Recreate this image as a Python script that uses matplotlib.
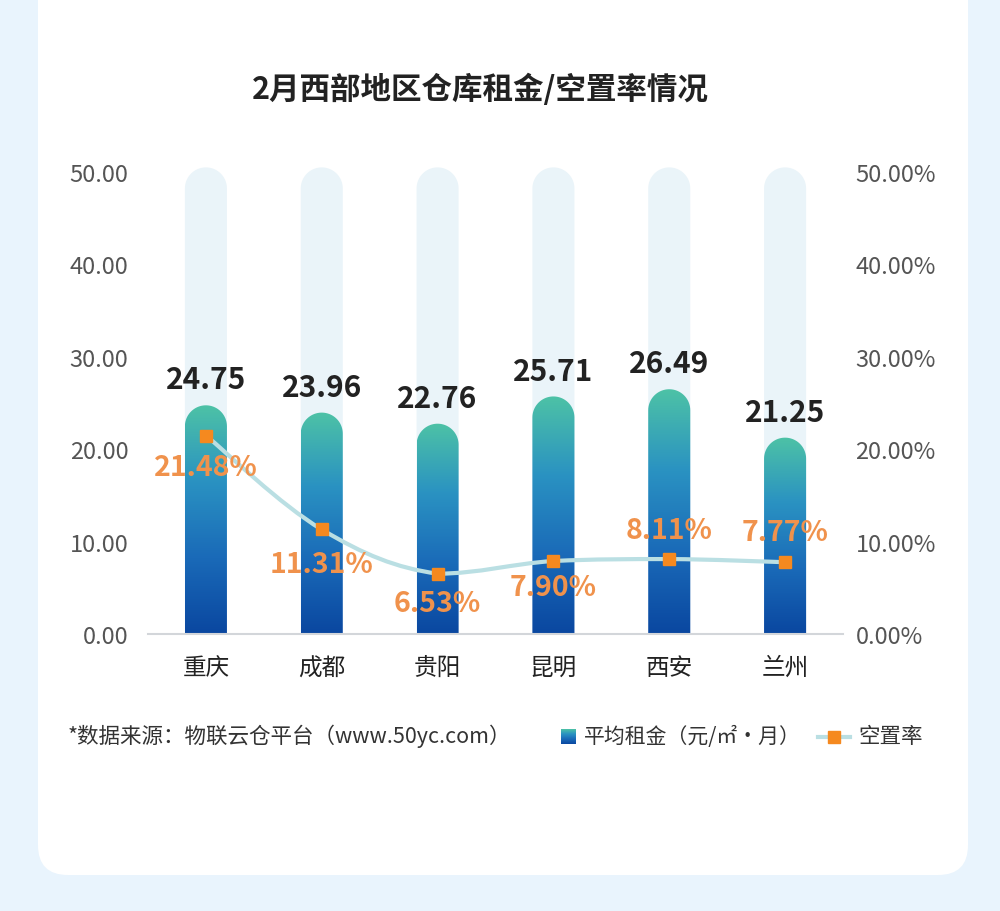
import numpy as np
import matplotlib
matplotlib.use("Agg")
import matplotlib.pyplot as plt
from matplotlib.patches import FancyBboxPatch, PathPatch
from matplotlib.path import Path
from matplotlib.colors import LinearSegmentedColormap
from matplotlib.lines import Line2D
from matplotlib.ticker import FuncFormatter

plt.rcParams['font.family'] = ['Noto Sans CJK SC', 'DejaVu Sans']

# data
cities = ['重庆', '成都', '贵阳', '昆明', '西安', '兰州']
rent = [24.75, 23.96, 22.76, 25.71, 26.49, 21.25]
vacancy = [21.48, 11.31, 6.53, 7.90, 8.11, 7.77]
rent_ticks = [0, 10, 20, 30, 40, 50]

title = '2月西部地区仓库租金/空置率情况'
source = '*数据来源：物联云仓平台（www.50yc.com）'
rent_name = '平均租金（元/㎡·月）'
vac_name = '空置率'

W, H = 1000, 912
fig = plt.figure(figsize=(W / 100, H / 100), dpi=100, facecolor='#e9f4fd')

# white card
card = FancyBboxPatch((0.38, 0.36), 9.30, 9.5, boxstyle='round,pad=0,rounding_size=0.3',
                      transform=fig.dpi_scale_trans, facecolor='white', edgecolor='none', zorder=-10)
fig.patches.append(card)

def fx(px):
    return px / W

def fy(py):
    return 1 - py / H

ax = fig.add_axes([fx(148), fy(635), fx(843) - fx(148), (635 - 173) / H])
ax.set_facecolor('none')
ax.set_xlim(-0.5, len(cities) - 0.5)
ax.set_ylim(0, 50)

cmap = LinearSegmentedColormap.from_list('bar', ['#0a47a0', '#1a6ab8', '#2a92c2', '#4dc2a6'])
grad = np.linspace(0, 1, 256).reshape(-1, 1)

bar_w = 0.363
px_x = (843 - 148) / len(cities)
px_y = (635 - 173) / 50
r_x = bar_w / 2
r_y = (bar_w / 2) * px_x / px_y

def rounded_bar(xc, top):
    t = np.linspace(0, np.pi, 40)
    xs = [xc - r_x, xc - r_x] + list(xc - r_x * np.cos(t)) + [xc + r_x, xc - r_x]
    ys = [0, top - r_y] + list(top - r_y + r_y * np.sin(t)) + [0, 0]
    verts = list(zip(xs, ys))
    codes = [Path.MOVETO] + [Path.LINETO] * (len(verts) - 2) + [Path.CLOSEPOLY]
    return Path(verts, codes)

for i, v in enumerate(rent):
    bg = PathPatch(rounded_bar(i, 50.5), facecolor='#eaf4f9', edgecolor='none', zorder=1, clip_on=False)
    ax.add_patch(bg)
    p = PathPatch(rounded_bar(i, v), facecolor='none', edgecolor='none', zorder=2)
    ax.add_patch(p)
    im = ax.imshow(grad, cmap=cmap, origin='lower', aspect='auto',
                   extent=[i - r_x, i + r_x, 0, v], zorder=2)
    im.set_clip_path(p)
    ax.text(i, v + 2.8, f'{v:.2f}', ha='center', va='center', fontsize=21.5,
            fontweight='bold', color='#222222', zorder=5)

ax.set_xlim(-0.5, len(cities) - 0.5)
ax.set_ylim(0, 50)
ax.set_yticks(rent_ticks)
ax.yaxis.set_major_formatter(FuncFormatter(lambda v, p: f'{v:.2f}'))
ax.set_xticks(range(len(cities)))
ax.set_xticklabels(cities)
ax.tick_params(axis='x', length=0, pad=16, labelsize=17, labelcolor='#222222')
ax.tick_params(axis='y', length=0, pad=14, labelsize=17, labelcolor='#555555')
for s in ['top', 'right', 'left']:
    ax.spines[s].set_visible(False)
ax.spines['bottom'].set_color('#d3d6da')
ax.spines['bottom'].set_linewidth(1.5)
ax.spines['bottom'].set_zorder(3)

ax2 = ax.twinx()
ax2.set_ylim(0, 50)
ax2.set_yticks(rent_ticks)
ax2.yaxis.set_major_formatter(FuncFormatter(lambda v, p: f'{v:.2f}%'))
ax2.tick_params(axis='y', length=0, pad=9, labelsize=17, labelcolor='#555555')
for s in ax2.spines.values():
    s.set_visible(False)

# smooth line through points (control points kept inside each segment's y range)
xs = np.arange(len(vacancy), dtype=float)
ys = np.array(vacancy, dtype=float)
pts = np.column_stack([xs, ys])
verts = [tuple(pts[0])]
codes = [Path.MOVETO]
k = 0.18
for i in range(len(pts) - 1):
    p0 = pts[max(i - 1, 0)]
    p1 = pts[i]
    p2 = pts[i + 1]
    p3 = pts[min(i + 2, len(pts) - 1)]
    c1 = p1 + (p2 - p0) * k
    c2 = p2 - (p3 - p1) * k
    lo, hi = min(p1[1], p2[1]), max(p1[1], p2[1])
    c1[1] = np.clip(c1[1], lo, hi)
    c2[1] = np.clip(c2[1], lo, hi)
    verts += [tuple(c1), tuple(c2), tuple(p2)]
    codes += [Path.CURVE4] * 3
ax2.add_patch(PathPatch(Path(verts, codes), facecolor='none', edgecolor='#badfe3',
                        linewidth=3, zorder=3))
ax2.plot(xs, ys, linestyle='none', marker='s', markersize=8.5, color='#f5891f', zorder=4)

offsets = [-23, -25, -21, -19, 21, 22]
for i, v in enumerate(vacancy):
    ax2.annotate(f'{v:.2f}%', (i, v), xytext=(0, offsets[i]), textcoords='offset points',
                 ha='center', va='center', fontsize=20.5, fontweight='bold', color='#f0924c', zorder=6)

fig.text(fx(480), fy(90), title, ha='center', va='center', fontsize=22,
         fontweight='bold', color='#222222')
fig.text(fx(68), fy(736), source, ha='left', va='center', fontsize=15.5, color='#333333')

# legend
lax = fig.add_axes([fx(561), fy(745), 15 / W, 15 / H])
lax.imshow(grad, cmap=cmap, origin='lower', aspect='auto')
lax.axis('off')
fig.text(fx(584), fy(737), rent_name, ha='left', va='center', fontsize=15, color='#333333')
fig.add_artist(Line2D([fx(818), fx(850)], [fy(738), fy(738)], color='#badfe3', linewidth=3,
                      transform=fig.transFigure))
fig.add_artist(Line2D([fx(834)], [fy(738)], marker='s', markersize=8, color='#f5891f',
                      linestyle='none', transform=fig.transFigure))
fig.text(fx(858), fy(737), vac_name, ha='left', va='center', fontsize=15.5, color='#333333')

fig.savefig('out.png', dpi=100, facecolor=fig.get_facecolor())
